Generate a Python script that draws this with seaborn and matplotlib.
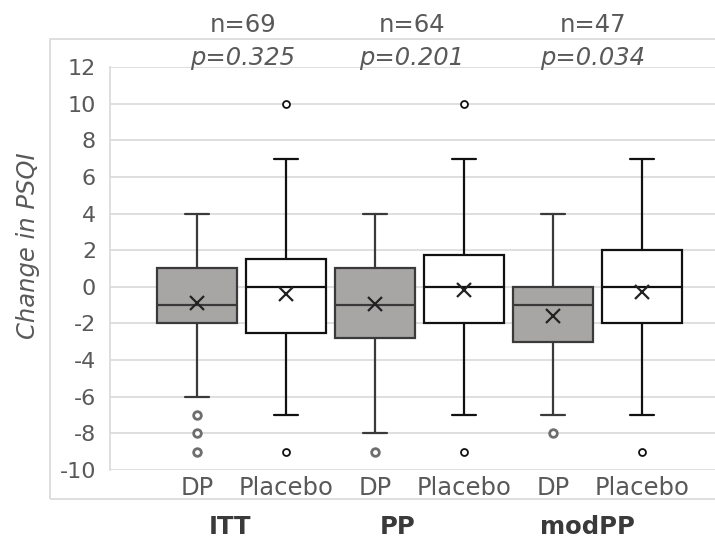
import matplotlib
matplotlib.use("Agg")
import matplotlib.pyplot as plt
from matplotlib.patches import Rectangle
import seaborn as sns
import pandas as pd

# ---- data ----
groups = ["ITT", "PP", "modPP"]
arms = ["DP", "Placebo", "DP", "Placebo", "DP", "Placebo"]
n_labels = ["n=69", "n=64", "n=47"]
p_labels = ["p=0.325", "p=0.201", "p=0.034"]

whisker_hi = [4, 7, 4, 7, 4, 7]
q3 = [1, 1.5, 1, 1.75, 0, 2]
median = [-1, 0, -1, 0, -1, 0]
q1 = [-2, -2.5, -2.8, -2, -3, -2]
whisker_lo = [-6, -7, -8, -7, -7, -7]
means = [-0.9, -0.4, -0.93, -0.2, -1.6, -0.3]
fliers = [[-7, -8, -9], [10, -9], [-9], [10, -9], [-8], [-9]]

y_ticks = list(range(-10, 13, 2))

sns.set_style("white")
plt.rcParams["font.family"] = ["DejaVu Sans"]

TXT = "#595959"
GRID = "#d9d9d9"
DP_FILL = "#a8a5a5"

fig = plt.figure(figsize=(7.15, 5.39), dpi=100)
W, H = 715, 539
ax = fig.add_axes([110 / W, 1 - 470 / H, 1 - 110 / W, (470 - 67) / H])

# outer chart border
fig.patches.append(Rectangle((50 / W, 1 - 499 / H), 1.2, (499 - 39) / H,
                             transform=fig.transFigure, fill=False,
                             edgecolor=GRID, linewidth=1.2, zorder=0))

positions = list(range(len(arms)))
stats = []
for i in positions:
    stats.append(dict(med=median[i], q1=q1[i], q3=q3[i],
                      whislo=whisker_lo[i], whishi=whisker_hi[i],
                      fliers=[], mean=means[i], label=arms[i]))

for i in positions:
    is_dp = arms[i] == "DP"
    ec = "#3a3a3a" if is_dp else "#111111"
    ax.bxp([stats[i]], positions=[i], widths=0.91, patch_artist=True,
           showfliers=False, showmeans=False, capwidths=0.26,
           boxprops=dict(facecolor=DP_FILL if is_dp else "white",
                         edgecolor=ec, linewidth=1.6),
           medianprops=dict(color=ec, linewidth=1.6),
           whiskerprops=dict(color=ec, linewidth=1.6),
           capprops=dict(color=ec, linewidth=1.6), manage_ticks=False,
           zorder=3)

# means (x markers)
mean_df = pd.DataFrame({"pos": positions, "mean": means})
ax.plot(mean_df["pos"], mean_df["mean"], linestyle="none", marker="x",
        markersize=10, markeredgewidth=1.6, color="#222222", zorder=5)

# outliers
for i in positions:
    is_dp = arms[i] == "DP"
    fl = pd.DataFrame({"pos": [i] * len(fliers[i]), "val": fliers[i]})
    ax.plot(fl["pos"], fl["val"], linestyle="none", marker="o",
            markersize=5.5 if is_dp else 5,
            markeredgewidth=2.0 if is_dp else 1.3,
            markerfacecolor="white",
            markeredgecolor="#6e6e6e" if is_dp else "#111111", zorder=5)

ax.set_xlim(-87 / 89, (715 - 197) / 89)
ax.set_ylim(-10, 12)
ax.set_yticks(y_ticks)
ax.set_yticklabels([str(t) for t in y_ticks])
ax.set_xticks(positions)
ax.set_xticklabels(arms)
ax.tick_params(axis="y", length=0, pad=10, labelsize=16, labelcolor=TXT)
ax.tick_params(axis="x", length=0, pad=4, labelsize=17.5, labelcolor=TXT)
for t in y_ticks:
    ax.axhline(t, color=GRID, linewidth=1.2, zorder=0)
for s in ["top", "right", "bottom"]:
    ax.spines[s].set_visible(False)
ax.spines["left"].set_color(GRID)
ax.spines["left"].set_linewidth(1.2)
ax.set_facecolor("white")

# y axis title
fig.text(28 / W, 1 - 246 / H, "Change in PSQI", rotation=90, ha="center",
         va="center", fontsize=17.5, color=TXT, style="italic")

# annotations above
n_x = [243, 412, 593]
for k in range(3):
    fig.text(n_x[k] / W, 1 - 25 / H, n_labels[k], ha="center", va="center",
             fontsize=17.5, color=TXT)
    fig.text(n_x[k] / W, 1 - 58 / H, p_labels[k], ha="center", va="center",
             fontsize=17.5, color=TXT, style="italic")

g_x = [230, 398, 587]
for k in range(3):
    fig.text(g_x[k] / W, 1 - 527 / H, groups[k], ha="center", va="center",
             fontsize=17.5, color="#3a3a3a", fontweight="bold")

fig.savefig("out.png", dpi=100, facecolor="white")
